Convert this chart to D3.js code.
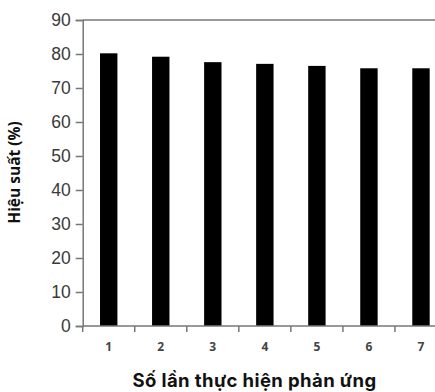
<!DOCTYPE html>
<html><head><meta charset="utf-8">
<script src="https://cdn.jsdelivr.net/npm/d3@7"></script>
<style>body{margin:0;background:#fff}svg{display:block}</style>
</head><body>
<script>
const categories = ["1","2","3","4","5","6","7"];
const values = [80.2, 79.2, 77.6, 77.1, 76.5, 75.8, 75.8];
const yTicks = [0,10,20,30,40,50,60,70,80,90];
const xTitle = "Số lần thực hiện phản ứng";
const yTitle = "Hiệu suất (%)";

(function(){
const W = 435, H = 392;
const svg = d3.select("body").append("svg").attr("width", W).attr("height", H);
const mLeft = 82.7, mTop = 20, mBottom = 326, mRight = 447;
const xb = d3.scaleBand().domain(categories).range([mLeft, mRight]);
const y = d3.scaleLinear().domain([0, 90]).range([mBottom, mTop]);

// bars
svg.selectAll("rect.bar").data(values).enter().append("rect")
  .attr("class","bar")
  .attr("x", (d,i)=> xb(categories[i]) + xb.bandwidth()/2 - 8.7)
  .attr("width", 17.4)
  .attr("y", d=>y(d)).attr("height", d=>mBottom - y(d))
  .attr("fill","#000");

// top border
svg.append("line").attr("x1", mLeft).attr("x2", W).attr("y1", mTop).attr("y2", mTop)
  .attr("stroke","#777").attr("stroke-width",1.5);

// y axis
const ya = svg.append("g").attr("transform",`translate(${mLeft},0)`)
  .call(d3.axisLeft(y).tickValues(yTicks).tickSize(7).tickPadding(5));
ya.select(".domain").attr("stroke","#777").attr("stroke-width",1.5);
ya.selectAll(".tick line").attr("stroke","#777").attr("stroke-width",1.5);
ya.selectAll(".tick text").attr("font-family","Liberation Sans, Arial, sans-serif")
  .attr("font-size",17.5).attr("fill","#3a3a3a");

// x axis
const xa = svg.append("g").attr("transform",`translate(0,${mBottom})`);
xa.append("line").attr("x1", mLeft).attr("x2", W).attr("stroke","#777").attr("stroke-width",1.5);
xa.selectAll("line.tk").data(categories).enter().append("line").attr("class","tk")
  .attr("x1", d=>xb(d)).attr("x2", d=>xb(d)).attr("y1",0).attr("y2",6)
  .attr("stroke","#777").attr("stroke-width",1.5);
xa.selectAll("text").data(categories).enter().append("text")
  .attr("x", d=>xb(d)+xb.bandwidth()/2).attr("y", 25)
  .attr("text-anchor","middle").attr("font-family","Open Sans, sans-serif")
  .attr("font-weight",700).attr("font-size",12).attr("fill","#444").text(d=>d);

// titles
svg.append("text").attr("x", 254.5).attr("y", 386.5).attr("text-anchor","middle")
  .attr("font-family","Inter, sans-serif").attr("font-weight",700).attr("font-size",18.5)
  .attr("letter-spacing",0.4).attr("fill","#111").text(xTitle);
svg.append("text").attr("transform","translate(20,172.5) rotate(-90)").attr("text-anchor","middle")
  .attr("font-family","Open Sans, sans-serif").attr("font-weight",700).attr("font-size",15.5)
  .attr("fill","#111").text(yTitle);
})();
</script>
</body></html>
